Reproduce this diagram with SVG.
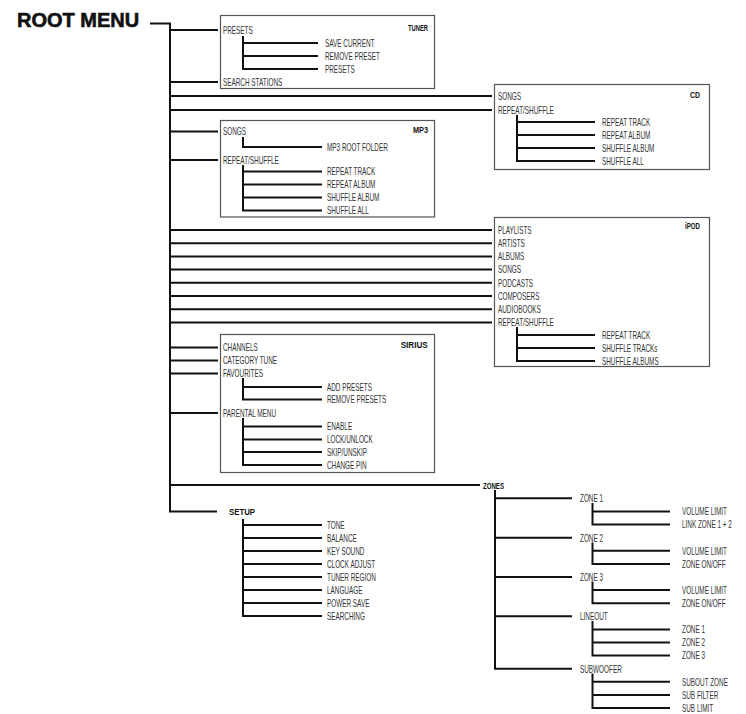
<svg xmlns="http://www.w3.org/2000/svg" width="746" height="714" viewBox="0 0 746 714">
<style>
.box{fill:#fff;stroke:#555;stroke-width:1.2}
.c{fill:none;stroke:#111;stroke-width:2;stroke-linejoin:miter;stroke-linecap:butt}
.t{font-family:"Liberation Sans",Arial,sans-serif;font-size:11px;fill:#333}
.b{font-family:"Liberation Sans",Arial,sans-serif;font-size:9.5px;font-weight:bold;fill:#111}
.root{font-family:"Liberation Sans",Arial,sans-serif;font-size:20px;font-weight:bold;fill:#111;stroke:#111;stroke-width:0.6}
</style>
<rect width="746" height="714" fill="#fff"/>
<g id="boxes">
<rect class="box" x="220.5" y="15.5" width="214" height="73"/>
<rect class="box" x="494.5" y="84.5" width="215" height="85"/>
<rect class="box" x="220.5" y="120.5" width="214" height="96.5"/>
<rect class="box" x="494.5" y="217.5" width="215" height="149"/>
<rect class="box" x="220.5" y="334.5" width="214" height="138"/>
</g>
<g id="connectors">
<path class="c" d="M150,23.5 H170 V511.5 H217"/>
<!-- tuner -->
<path class="c" d="M170,30 H218 M170,82 H218"/>
<path class="c" d="M243,36 V69 H318 M243,43 H318 M243,56 H318"/>
<!-- cd -->
<path class="c" d="M170,96 H492 M170,110 H492"/>
<path class="c" d="M517,115 V161 H595 M517,122 H595 M517,135 H595 M517,148 H595"/>
<!-- mp3 -->
<path class="c" d="M170,131.5 H218 M170,160 H218"/>
<path class="c" d="M243,137 V147 H322"/>
<path class="c" d="M243,165 V210.5 H322 M243,171.5 H322 M243,184.5 H322 M243,197.5 H322"/>
<!-- ipod -->
<path class="c" d="M170,230 H492 M170,243.2 H492 M170,256.4 H492 M170,269.6 H492 M170,282.8 H492 M170,296 H492 M170,309.2 H492 M170,322.4 H492"/>
<path class="c" d="M517,327 V361 H595 M517,335 H595 M517,348 H595"/>
<!-- sirius -->
<path class="c" d="M170,347.5 H218 M170,360.5 H218 M170,373.5 H218 M170,413 H218"/>
<path class="c" d="M243,378 V399.5 H322 M243,387 H322"/>
<path class="c" d="M243,418 V465 H322 M243,426.5 H322 M243,439.5 H322 M243,452 H322"/>
<!-- zones -->
<path class="c" d="M170,485 H480"/>
<path class="c" d="M495,490 V668.7 H572 M495,498.3 H572 M495,537.7 H572 M495,577 H572 M495,616.3 H572"/>
<path class="c" d="M592.5,503 V524.6 H670 M592.5,511.5 H670"/>
<path class="c" d="M592.5,542.5 V563.9 H670 M592.5,550.8 H670"/>
<path class="c" d="M592.5,581.5 V603.2 H670 M592.5,590.1 H670"/>
<path class="c" d="M592.5,621 V655.6 H670 M592.5,629.4 H670 M592.5,642.5 H670"/>
<path class="c" d="M592.5,673.5 V708 H670 M592.5,681.8 H670 M592.5,694.9 H670"/>
<!-- setup -->
<path class="c" d="M243,519 V616 H322 M243,525 H322 M243,538 H322 M243,551 H322 M243,564 H322 M243,577 H322 M243,590 H322 M243,603 H322"/>
</g>
<g id="root"><text class="root" x="17" y="27">ROOT MENU</text></g>
<g id="tuner">
<text class="b" x="408" y="31" textLength="20" lengthAdjust="spacingAndGlyphs">TUNER</text>
<text class="t" transform="translate(223,33.8) scale(0.58,1)">PRESETS</text>
<text class="t" transform="translate(325,46.8) scale(0.58,1)">SAVE CURRENT</text>
<text class="t" transform="translate(325,59.8) scale(0.58,1)">REMOVE PRESET</text>
<text class="t" transform="translate(325,72.8) scale(0.58,1)">PRESETS</text>
<text class="t" transform="translate(223,85.8) scale(0.58,1)">SEARCH STATIONS</text>
</g>
<g id="cd">
<text class="b" x="690" y="98" textLength="10" lengthAdjust="spacingAndGlyphs">CD</text>
<text class="t" transform="translate(498,99.8) scale(0.58,1)">SONGS</text>
<text class="t" transform="translate(498,113.8) scale(0.58,1)">REPEAT/SHUFFLE</text>
<text class="t" transform="translate(602,125.8) scale(0.58,1)">REPEAT TRACK</text>
<text class="t" transform="translate(602,138.8) scale(0.58,1)">REPEAT ALBUM</text>
<text class="t" transform="translate(602,151.8) scale(0.58,1)">SHUFFLE ALBUM</text>
<text class="t" transform="translate(602,164.8) scale(0.58,1)">SHUFFLE ALL</text>
</g>
<g id="mp3">
<text class="b" x="413" y="133" textLength="15" lengthAdjust="spacingAndGlyphs">MP3</text>
<text class="t" transform="translate(223,135.3) scale(0.58,1)">SONGS</text>
<text class="t" transform="translate(327,150.8) scale(0.58,1)">MP3 ROOT FOLDER</text>
<text class="t" transform="translate(223,163.8) scale(0.58,1)">REPEAT/SHUFFLE</text>
<text class="t" transform="translate(327,175.3) scale(0.58,1)">REPEAT TRACK</text>
<text class="t" transform="translate(327,188.3) scale(0.58,1)">REPEAT ALBUM</text>
<text class="t" transform="translate(327,201.3) scale(0.58,1)">SHUFFLE ALBUM</text>
<text class="t" transform="translate(327,214.3) scale(0.58,1)">SHUFFLE ALL</text>
</g>
<g id="ipod">
<text class="b" x="685" y="229" textLength="15" lengthAdjust="spacingAndGlyphs">iPOD</text>
<text class="t" transform="translate(498,233.8) scale(0.58,1)">PLAYLISTS</text>
<text class="t" transform="translate(498,247) scale(0.58,1)">ARTISTS</text>
<text class="t" transform="translate(498,260.2) scale(0.58,1)">ALBUMS</text>
<text class="t" transform="translate(498,273.4) scale(0.58,1)">SONGS</text>
<text class="t" transform="translate(498,286.6) scale(0.58,1)">PODCASTS</text>
<text class="t" transform="translate(498,299.8) scale(0.58,1)">COMPOSERS</text>
<text class="t" transform="translate(498,313) scale(0.58,1)">AUDIOBOOKS</text>
<text class="t" transform="translate(498,326.2) scale(0.58,1)">REPEAT/SHUFFLE</text>
<text class="t" transform="translate(602,338.8) scale(0.58,1)">REPEAT TRACK</text>
<text class="t" transform="translate(602,351.8) scale(0.58,1)">SHUFFLE TRACKs</text>
<text class="t" transform="translate(602,364.8) scale(0.58,1)">SHUFFLE ALBUMS</text>
</g>
<g id="sirius">
<text class="b" x="400.7" y="348" textLength="27" lengthAdjust="spacingAndGlyphs">SIRIUS</text>
<text class="t" transform="translate(223,351.3) scale(0.58,1)">CHANNELS</text>
<text class="t" transform="translate(223,364.3) scale(0.58,1)">CATEGORY TUNE</text>
<text class="t" transform="translate(223,377.3) scale(0.58,1)">FAVOURITES</text>
<text class="t" transform="translate(327,390.8) scale(0.58,1)">ADD PRESETS</text>
<text class="t" transform="translate(327,403.3) scale(0.58,1)">REMOVE PRESETS</text>
<text class="t" transform="translate(223,416.8) scale(0.58,1)">PARENTAL MENU</text>
<text class="t" transform="translate(327,430.3) scale(0.58,1)">ENABLE</text>
<text class="t" transform="translate(327,443.3) scale(0.58,1)">LOCK/UNLOCK</text>
<text class="t" transform="translate(327,455.8) scale(0.58,1)">SKIP/UNSKIP</text>
<text class="t" transform="translate(327,468.8) scale(0.58,1)">CHANGE PIN</text>
</g>
<g id="zones">
<text class="b" x="483" y="488.5" textLength="21" lengthAdjust="spacingAndGlyphs">ZONES</text>
<text class="t" transform="translate(580,502.1) scale(0.58,1)">ZONE 1</text>
<text class="t" transform="translate(682,515.3) scale(0.58,1)">VOLUME LIMIT</text>
<text class="t" transform="translate(682,528.4) scale(0.58,1)">LINK ZONE 1 + 2</text>
<text class="t" transform="translate(580,541.5) scale(0.58,1)">ZONE 2</text>
<text class="t" transform="translate(682,554.6) scale(0.58,1)">VOLUME LIMIT</text>
<text class="t" transform="translate(682,567.7) scale(0.58,1)">ZONE ON/OFF</text>
<text class="t" transform="translate(580,580.8) scale(0.58,1)">ZONE 3</text>
<text class="t" transform="translate(682,593.9) scale(0.58,1)">VOLUME LIMIT</text>
<text class="t" transform="translate(682,607) scale(0.58,1)">ZONE ON/OFF</text>
<text class="t" transform="translate(580,620.1) scale(0.58,1)">LINEOUT</text>
<text class="t" transform="translate(682,633.2) scale(0.58,1)">ZONE 1</text>
<text class="t" transform="translate(682,646.3) scale(0.58,1)">ZONE 2</text>
<text class="t" transform="translate(682,659.4) scale(0.58,1)">ZONE 3</text>
<text class="t" transform="translate(580,672.5) scale(0.58,1)">SUBWOOFER</text>
<text class="t" transform="translate(682,685.6) scale(0.58,1)">SUBOUT ZONE</text>
<text class="t" transform="translate(682,698.7) scale(0.58,1)">SUB FILTER</text>
<text class="t" transform="translate(682,711.8) scale(0.58,1)">SUB LIMIT</text>
</g>
<g id="setup">
<text class="b" x="229" y="515" textLength="26" lengthAdjust="spacingAndGlyphs">SETUP</text>
<text class="t" transform="translate(327,528.8) scale(0.58,1)">TONE</text>
<text class="t" transform="translate(327,541.8) scale(0.58,1)">BALANCE</text>
<text class="t" transform="translate(327,554.8) scale(0.58,1)">KEY SOUND</text>
<text class="t" transform="translate(327,567.8) scale(0.58,1)">CLOCK ADJUST</text>
<text class="t" transform="translate(327,580.8) scale(0.58,1)">TUNER REGION</text>
<text class="t" transform="translate(327,593.8) scale(0.58,1)">LANGUAGE</text>
<text class="t" transform="translate(327,606.8) scale(0.58,1)">POWER SAVE</text>
<text class="t" transform="translate(327,619.8) scale(0.58,1)">SEARCHING</text>
</g>
</svg>
